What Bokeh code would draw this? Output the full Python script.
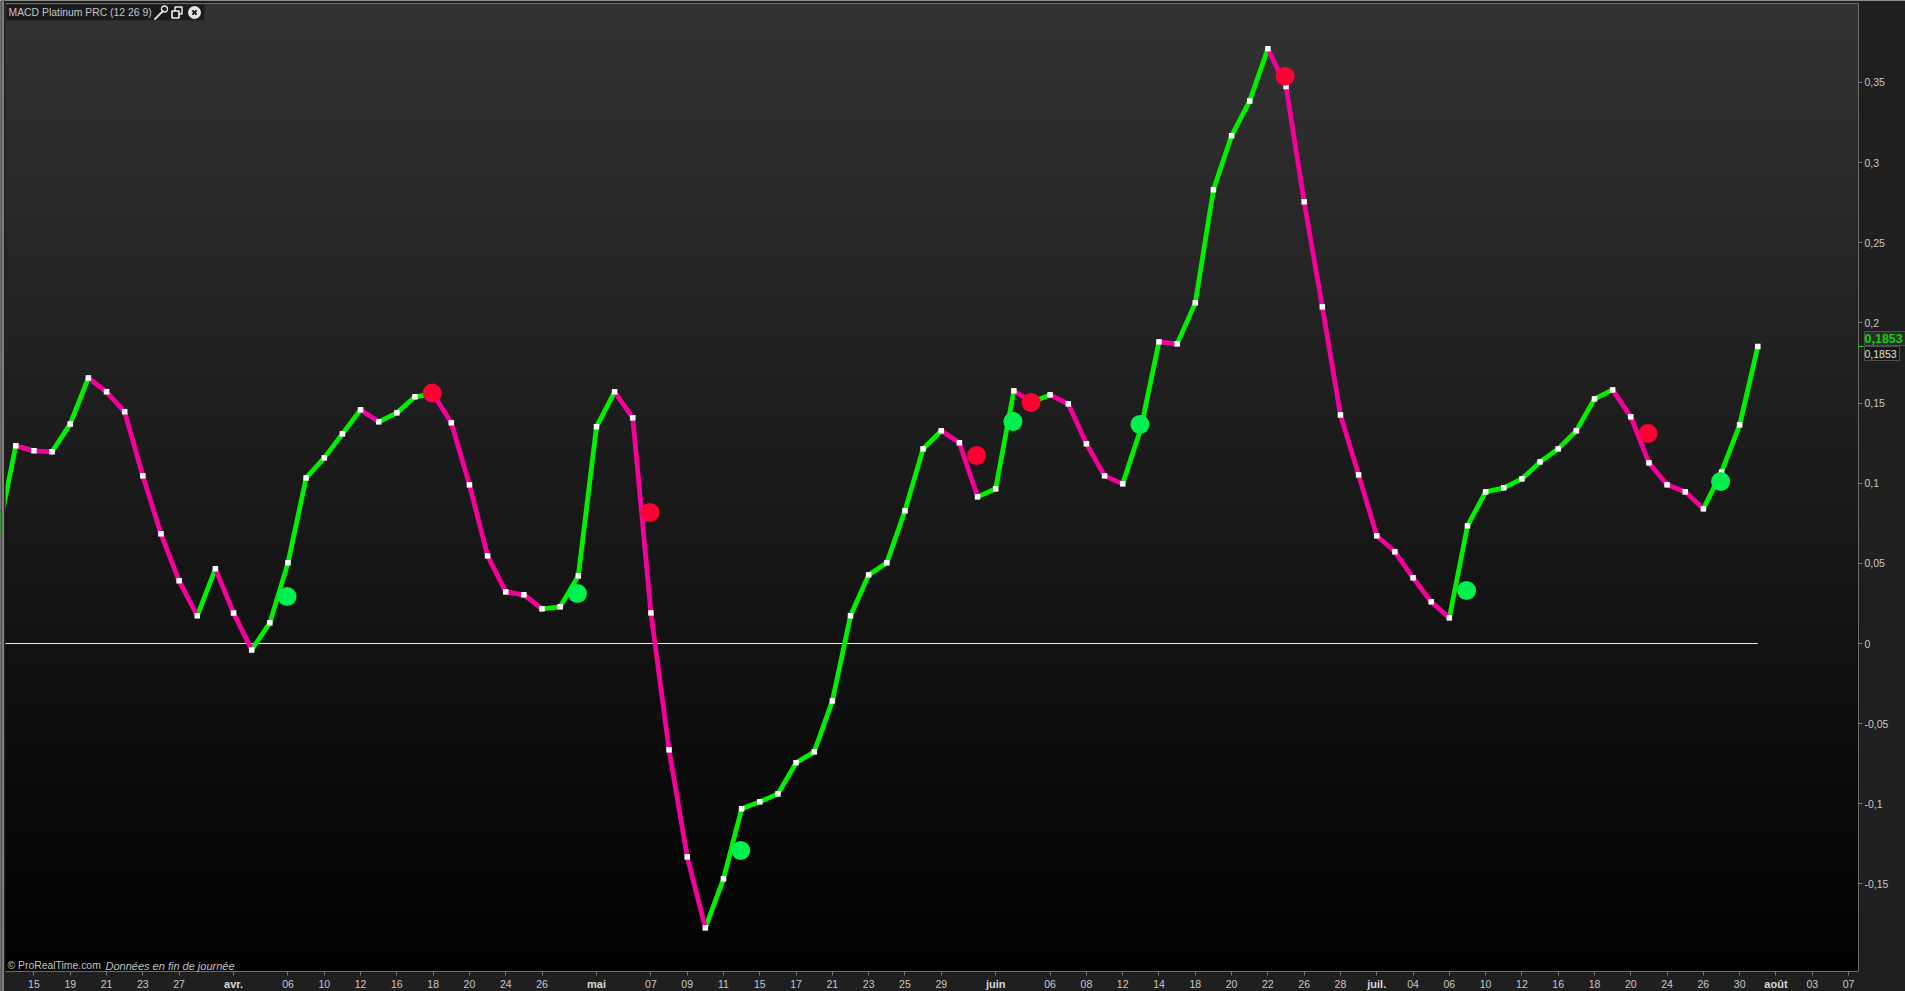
from bokeh.plotting import figure
from bokeh.models import LinearAxis, FixedTicker, Label
from bokeh.embed import file_html
from bokeh.resources import INLINE

macd = [0.0674, 0.1233, 0.1202, 0.1196, 0.1370, 0.1657, 0.1570, 0.1445, 0.1046, 0.0684,
        0.0391, 0.0173, 0.0466, 0.0191, -0.0040, 0.0129, 0.0503, 0.1033, 0.1158, 0.1308,
        0.1458, 0.1383, 0.1439, 0.1539, 0.1557, 0.1377, 0.0990, 0.0547, 0.0322, 0.0304,
        0.0216, 0.0229, 0.0422, 0.1352, 0.1570, 0.1408, 0.0191, -0.0663, -0.1331, -0.1774,
        -0.1468, -0.1031, -0.0988, -0.0938, -0.0744, -0.0676, -0.0358, 0.0173, 0.0428, 0.0503,
        0.0828, 0.1214, 0.1327, 0.1252, 0.0915, 0.0965, 0.1576, 0.1506, 0.1551, 0.1495,
        0.1246, 0.1046, 0.0996, 0.1339, 0.1882, 0.1869, 0.2125, 0.2830, 0.3167, 0.3385,
        0.3710, 0.3475, 0.2755, 0.2100, 0.1426, 0.1052, 0.0672, 0.0572, 0.0410, 0.0260,
        0.0160, 0.0734, 0.0946, 0.0971, 0.1027, 0.1133, 0.1214, 0.1327, 0.1526, 0.1582,
        0.1414, 0.1127, 0.0990, 0.0946, 0.0840, 0.1069, 0.1364, 0.1853]

green_bars = [16, 32, 41, 56, 63, 81, 95]
green_vals = [0.0293, 0.0312, -0.1291, 0.1385, 0.1366, 0.0331, 0.1011]
red_bars = [24, 36, 54, 57, 71, 91]
red_vals = [0.1562, 0.0817, 0.1173, 0.1503, 0.3539, 0.1310]

y_ticks = [0.35, 0.3, 0.25, 0.2, 0.15, 0.1, 0.05, 0, -0.05, -0.1, -0.15]
y_labels = ["0,35", "0,3", "0,25", "0,2", "0,15", "0,1", "0,05", "0", "-0,05", "-0,1", "-0,15"]
x_ticks = [2, 4, 6, 8, 10, 13, 16, 18, 20, 22, 24, 26, 28, 30, 33, 36, 38, 40, 42, 44, 46, 48, 50, 52,
           55, 58, 60, 62, 64, 66, 68, 70, 72, 74, 76, 78, 80, 82, 84, 86, 88, 90, 92, 94, 96, 98, 100, 102]
x_labels = ["15", "19", "21", "23", "27", "avr.", "06", "10", "12", "16", "18", "20", "24", "26", "mai",
            "07", "09", "11", "15", "17", "21", "23", "25", "29", "juin", "06", "08", "12", "14", "18",
            "20", "22", "26", "28", "juil.", "04", "06", "10", "12", "16", "18", "20", "24", "26", "30",
            "août", "03", "07"]
months = {"avr.", "mai", "juin", "juil.", "août"}
last_label = "0,1853"

FONT = "Liberation Sans"
GREEN = "#00f000"
MAGENTA = "#f5009a"
CHROME = "#1f1f1f"
EDGE = "#6a6a6a"


def X(px):
    return 1 + (px - 15.3) / 18.146


def Y(py):
    return (643 - py) / 1603


# the plotting area spans the whole window, so the chrome round the pane can be drawn in it
p = figure(width=1905, height=991, min_border=0,
           output_backend="svg", toolbar_location=None,
           x_range=(X(0), X(1905)), y_range=(Y(991), Y(0)),
           x_axis_location=None, y_axis_location=None,
           border_fill_color=CHROME, background_fill_color=CHROME,
           outline_line_color=None)
p.grid.visible = False

# vertical gradient of the pane
levels = 50
step = (Y(3) - Y(971)) / levels
tops = [Y(3) - k * step for k in range(levels)]
grays = ["#%02x%02x%02x" % (levels - k, levels - k, levels - k) for k in range(levels)]
p.quad(left=X(5), right=X(1858), top=tops, bottom=Y(971), fill_color=grays, line_color=None)


def style(ax, standoff):
    ax.axis_line_color = None
    ax.major_tick_line_color = "#7a7a7a"
    ax.major_tick_in = 0
    ax.major_tick_out = 4
    ax.minor_tick_out = 0
    ax.minor_tick_in = 0
    ax.major_label_text_color = "#c8c8c8"
    ax.major_label_text_font = FONT
    ax.major_label_text_font_size = "10.5px"
    ax.major_label_standoff = standoff


# axes
yax = LinearAxis(ticker=FixedTicker(ticks=y_ticks), fixed_location=X(1858))
yax.major_label_overrides = dict(zip(y_ticks, y_labels))
style(yax, 2)
xax = LinearAxis(ticker=FixedTicker(ticks=x_ticks), fixed_location=Y(971))
xax.major_label_overrides = {t: ("" if s in months else s) for t, s in zip(x_ticks, x_labels)}
style(xax, 4)
p.add_layout(yax, "right")
p.add_layout(xax, "below")

for t, s in zip(x_ticks, x_labels):
    if s in months:
        p.add_layout(Label(x=t, y=Y(983.5), text=s, text_font=FONT, text_font_size="11px",
                           text_font_style="bold", text_color="#d8d8d8",
                           text_align="center", text_baseline="middle"))

# zero line
p.line([0, len(macd) - 1], [0, 0], line_color="#e8e8e8", line_width=1)

# coloured curve: each step takes the colour of its direction
bars = list(range(len(macd)))
up = [(i, a, i + 1, b) for i, (a, b) in enumerate(zip(macd, macd[1:])) if b >= a]
dn = [(i, a, i + 1, b) for i, (a, b) in enumerate(zip(macd, macd[1:])) if b < a]
for rows, col in ((up, GREEN), (dn, MAGENTA)):
    p.segment(x0=[r[0] for r in rows], y0=[r[1] for r in rows],
              x1=[r[2] for r in rows], y1=[r[3] for r in rows],
              line_color=col, line_width=4.8, line_cap="round")
p.scatter(bars[1:], macd[1:], marker="square", size=5.5, fill_color="#ffffff", line_color=None)

# signals
p.scatter([b - 0.05 for b in green_bars], green_vals, marker="circle", size=19, fill_color="#00f050", line_color=None)
p.scatter([b - 0.05 for b in red_bars], red_vals, marker="circle", size=19, fill_color="#ff0033", line_color=None)

# left window edge, over the start of the curve
p.quad(left=X(0), right=X(5), top=Y(0), bottom=Y(991), fill_color=CHROME, line_color=None)
p.quad(left=X(1), right=X(3.5), top=Y(0), bottom=Y(991), fill_color="#808080", line_color=None)

# pane frame
p.line([X(5), X(1858), X(1858), X(5)], [Y(3), Y(3), Y(971), Y(971)], line_color=EDGE, line_width=1)

# pane header
p.quad(left=X(5), right=X(204), top=Y(4), bottom=Y(20), fill_color="#1b1b1b", line_color="#2a2a2a")
p.add_layout(Label(x=X(8), y=Y(12), text="MACD Platinum PRC (12 26 9)", text_font=FONT,
                   text_font_size="10.4px", text_color="#c4c4c4", text_baseline="middle"))
# wrench
p.line([X(154), X(163)], [Y(19), Y(10)], line_color="#e0e0e0", line_width=1.8)
p.scatter([X(164)], [Y(8.5)], marker="circle", size=6, fill_color=None, line_color="#e0e0e0", line_width=1.3)
# restore
p.scatter([X(178)], [Y(10)], marker="square", size=7, fill_color="#1b1b1b", line_color="#f0f0f0", line_width=1.4)
p.scatter([X(175)], [Y(14)], marker="square", size=7, fill_color="#1b1b1b", line_color="#f0f0f0", line_width=1.6)
# close
p.scatter([X(194)], [Y(12)], marker="circle", size=13, fill_color="#e4e4e4", line_color=None)
p.scatter([X(194)], [Y(12)], marker="x", size=6, fill_color=None, line_color="#1b1b1b", line_width=2)

# footer text
p.add_layout(Label(x=X(7), y=Y(965), text="© ProRealTime.com", text_font=FONT, text_font_size="10.4px",
                   text_color="#c4c4c4", text_baseline="middle"))
p.add_layout(Label(x=X(105), y=Y(965), text="Données en fin de journée", text_font=FONT, text_font_size="11px",
                   text_font_style="italic", text_color="#c4c4c4", text_baseline="middle"))

# current value flags
p.line([X(1858), X(1863)], [Y(346), Y(346)], line_color=GREEN, line_width=1)
p.quad(left=X(1864), right=X(1905), top=Y(331), bottom=Y(345), fill_color="#2c2c2c", line_color="#505050")
p.quad(left=X(1864), right=X(1899), top=Y(346), bottom=Y(360), fill_color="#161616", line_color="#505050")
p.add_layout(Label(x=X(1864), y=Y(338), text=last_label, text_font=FONT, text_font_size="12.5px",
                   text_font_style="bold", text_color="#10d010", text_baseline="middle"))
p.add_layout(Label(x=X(1864), y=Y(353), text=last_label, text_font=FONT, text_font_size="10.5px",
                   text_color="#e0e0e0", text_baseline="middle"))

open("out.html", "w").write(file_html(p, INLINE))
